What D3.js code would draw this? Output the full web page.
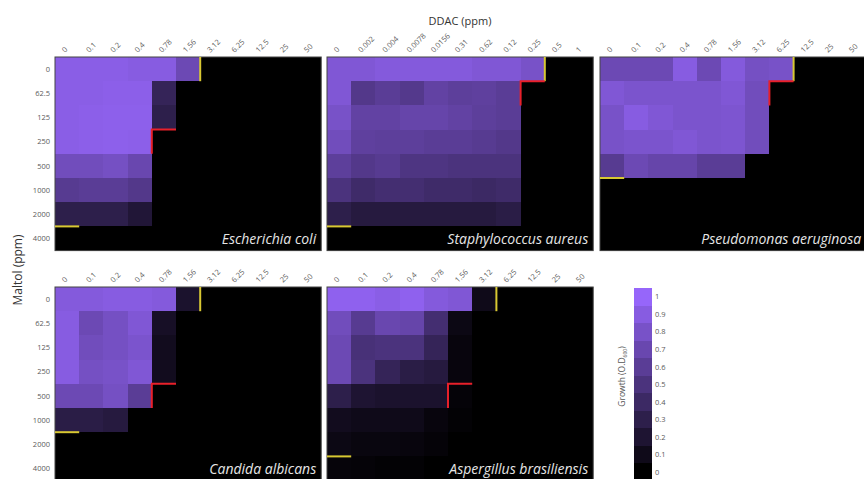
<!DOCTYPE html>
<html>
<head>
<meta charset="utf-8">
<script src="https://cdn.jsdelivr.net/npm/d3@7"></script>
<style>
  body { margin: 0; background: #fff; }
  text { font-family: "Open Sans", "Liberation Sans", sans-serif; }
</style>
</head>
<body>
<div id="chart"></div>
<script>
// Tick labels
const ddacTicks = ["0", "0.1", "0.2", "0.4", "0.78", "1.56", "3.12", "6.25", "12.5", "25", "50"];
const ddacTicksSa = ["0", "0.002", "0.004", "0.0078", "0.0156", "0.31", "0.62", "0.12", "0.25", "0.5", "1"];
const maltolTicks = ["0", "62.5", "125", "250", "500", "1000", "2000", "4000"];
const growthTicks = [0, 0.1, 0.2, 0.3, 0.4, 0.5, 0.6, 0.7, 0.8, 0.9, 1];

// Growth (OD600), rows = maltol, cols = DDAC
const growthEcoli = [
  [0.92, 0.92, 0.92, 0.9, 0.9, 0.72, 0, 0, 0, 0, 0],
  [0.92, 0.92, 0.93, 0.93, 0.35, 0, 0, 0, 0, 0, 0],
  [0.92, 0.93, 0.94, 0.94, 0.3, 0, 0, 0, 0, 0, 0],
  [0.92, 0.93, 0.94, 0.93, 0, 0, 0, 0, 0, 0, 0],
  [0.75, 0.75, 0.78, 0.7, 0, 0, 0, 0, 0, 0, 0],
  [0.58, 0.6, 0.6, 0.55, 0, 0, 0, 0, 0, 0, 0],
  [0.3, 0.3, 0.3, 0.22, 0, 0, 0, 0, 0, 0, 0],
  [0, 0, 0, 0, 0, 0, 0, 0, 0, 0, 0]
];
const growthSaureus = [
  [0.85, 0.85, 0.88, 0.88, 0.88, 0.88, 0.85, 0.85, 0.8, 0, 0],
  [0.85, 0.55, 0.6, 0.56, 0.65, 0.62, 0.63, 0.6, 0, 0, 0],
  [0.8, 0.65, 0.65, 0.68, 0.68, 0.65, 0.62, 0.6, 0, 0, 0],
  [0.75, 0.63, 0.62, 0.62, 0.6, 0.6, 0.58, 0.55, 0, 0, 0],
  [0.62, 0.55, 0.58, 0.52, 0.52, 0.5, 0.5, 0.5, 0, 0, 0],
  [0.5, 0.42, 0.45, 0.45, 0.42, 0.42, 0.4, 0.42, 0, 0, 0],
  [0.3, 0.25, 0.25, 0.25, 0.25, 0.25, 0.25, 0.28, 0, 0, 0],
  [0, 0, 0, 0, 0, 0, 0, 0, 0, 0, 0]
];
const growthPaeruginosa = [
  [0.72, 0.72, 0.72, 0.9, 0.72, 0.88, 0.78, 0.8, 0, 0, 0],
  [0.85, 0.82, 0.82, 0.82, 0.82, 0.85, 0.75, 0, 0, 0, 0],
  [0.8, 0.9, 0.85, 0.82, 0.82, 0.83, 0.75, 0, 0, 0, 0],
  [0.8, 0.82, 0.82, 0.85, 0.82, 0.83, 0.75, 0, 0, 0, 0],
  [0.58, 0.72, 0.68, 0.68, 0.6, 0.6, 0, 0, 0, 0, 0],
  [0, 0, 0, 0, 0, 0, 0, 0, 0, 0, 0],
  [0, 0, 0, 0, 0, 0, 0, 0, 0, 0, 0],
  [0, 0, 0, 0, 0, 0, 0, 0, 0, 0, 0]
];
const growthCalbicans = [
  [0.88, 0.88, 0.9, 0.9, 0.88, 0.18, 0, 0, 0, 0, 0],
  [0.9, 0.72, 0.78, 0.85, 0.15, 0, 0, 0, 0, 0, 0],
  [0.9, 0.75, 0.78, 0.82, 0.12, 0, 0, 0, 0, 0, 0],
  [0.9, 0.78, 0.8, 0.85, 0.12, 0, 0, 0, 0, 0, 0],
  [0.72, 0.72, 0.78, 0.6, 0, 0, 0, 0, 0, 0, 0],
  [0.28, 0.28, 0.25, 0, 0, 0, 0, 0, 0, 0, 0],
  [0, 0, 0, 0, 0, 0, 0, 0, 0, 0, 0],
  [0, 0, 0, 0, 0, 0, 0, 0, 0, 0, 0]
];
const growthAbrasiliensis = [
  [0.95, 0.95, 0.92, 0.95, 0.88, 0.85, 0.1, 0, 0, 0, 0],
  [0.75, 0.58, 0.7, 0.68, 0.45, 0.08, 0, 0, 0, 0, 0],
  [0.72, 0.48, 0.5, 0.5, 0.35, 0.05, 0, 0, 0, 0, 0],
  [0.72, 0.5, 0.35, 0.28, 0.25, 0.05, 0, 0, 0, 0, 0],
  [0.3, 0.2, 0.18, 0.18, 0.18, 0.03, 0, 0, 0, 0, 0],
  [0.12, 0.1, 0.1, 0.1, 0.05, 0.02, 0, 0, 0, 0, 0],
  [0.08, 0.06, 0.06, 0.05, 0.03, 0, 0, 0, 0, 0, 0],
  [0.04, 0.03, 0.02, 0.02, 0, 0, 0, 0, 0, 0, 0]
];

// MIC markers: yellow = DDAC MIC (col) and maltol MIC (row); red = FIC corner [row, col]
const micDdac = [6, 9, 8, 6, 7];
const micMaltol = [7, 7, 5, 6, 7];
const ficCorner = [[3, 4], [1, 8], [1, 7], [4, 4], [4, 5]];

const speciesNames = ["Escherichia coli", "Staphylococcus aureus", "Pseudomonas aeruginosa",
  "Candida albicans", "Aspergillus brasiliensis"];

// Layout
const W = 864, H = 479;
const cell = 24.2;
const panelW = cell * 11, panelH = cell * 8;
const panelPos = [[55, 57], [327, 57], [600, 57], [55, 287], [327, 287]];
const panels = [
  {grid: growthEcoli, cols: ddacTicks, rowLabels: true},
  {grid: growthSaureus, cols: ddacTicksSa, rowLabels: false},
  {grid: growthPaeruginosa, cols: ddacTicks, rowLabels: false},
  {grid: growthCalbicans, cols: ddacTicks, rowLabels: true},
  {grid: growthAbrasiliensis, cols: ddacTicks, rowLabels: false}
];

const color = d3.scaleLinear().domain([0, 1]).range(["#000000", "#9666fa"]).clamp(true);

const svg = d3.select("#chart").append("svg")
  .attr("width", W).attr("height", H);

panels.forEach((p, i) => {
  const [px, py] = panelPos[i];
  const g = svg.append("g").attr("transform", `translate(${px},${py})`);

  const x = d3.scaleBand().domain(d3.range(11)).range([0, panelW]);
  const y = d3.scaleBand().domain(d3.range(8)).range([0, panelH]);

  g.append("rect")
    .attr("width", panelW).attr("height", panelH)
    .attr("fill", "#000");

  const cells = [];
  p.grid.forEach((row, r) => row.forEach((v, c) => cells.push({r, c, v})));

  g.selectAll("rect.cell")
    .data(cells)
    .enter().append("rect")
      .attr("class", "cell")
      .attr("x", d => x(d.c))
      .attr("y", d => y(d.r))
      .attr("width", x.bandwidth())
      .attr("height", y.bandwidth())
      .attr("shape-rendering", "crispEdges")
      .attr("fill", d => color(d.v));

  g.append("rect")
    .attr("width", panelW).attr("height", panelH)
    .attr("fill", "none").attr("stroke", "#444").attr("stroke-width", 1);

  // column labels (rotated)
  g.selectAll("text.col")
    .data(p.cols)
    .enter().append("text")
      .attr("class", "col")
      .attr("transform", (d, k) => `translate(${x(k) + x.bandwidth() / 2 - 2},${-4}) rotate(-45)`)
      .attr("font-size", 7.5)
      .attr("fill", "#5a5a5a")
      .text(d => d);

  // row labels (left column only)
  if (p.rowLabels) {
    g.selectAll("text.row")
      .data(maltolTicks)
      .enter().append("text")
        .attr("class", "row")
        .attr("x", -5)
        .attr("y", (d, k) => y(k) + y.bandwidth() / 2)
        .attr("dy", "0.35em")
        .attr("text-anchor", "end")
        .attr("font-size", 7.5)
        .attr("fill", "#5a5a5a")
        .text(d => d);
  }

  // yellow MIC lines
  g.append("line")
    .attr("x1", x(micDdac[i])).attr("x2", x(micDdac[i]))
    .attr("y1", 0).attr("y2", y.bandwidth())
    .attr("stroke", "#d8c832").attr("stroke-width", 2);
  g.append("line")
    .attr("x1", 0).attr("x2", x.bandwidth())
    .attr("y1", y(micMaltol[i])).attr("y2", y(micMaltol[i]))
    .attr("stroke", "#d8c832").attr("stroke-width", 2);

  // red FIC corner
  const [fr, fc] = ficCorner[i];
  g.append("path")
    .attr("d", `M${x(fc)},${y(fr) + y.bandwidth()} L${x(fc)},${y(fr)} L${x(fc) + x.bandwidth()},${y(fr)}`)
    .attr("fill", "none").attr("stroke", "#e8202a").attr("stroke-width", 2);

  // species label
  g.append("text")
    .attr("x", panelW - 5)
    .attr("y", panelH - 7)
    .attr("text-anchor", "end")
    .attr("font-size", 14)
    .attr("font-style", "italic")
    .attr("fill", "#e6e6e6")
    .text(speciesNames[i]);
});

// axis titles
svg.append("text")
  .attr("x", 460).attr("y", 25)
  .attr("text-anchor", "middle")
  .attr("font-size", 11).attr("fill", "#333")
  .text("DDAC (ppm)");

svg.append("text")
  .attr("transform", "translate(22,270) rotate(-90)")
  .attr("text-anchor", "middle")
  .attr("font-size", 12).attr("fill", "#333")
  .text("Maltol (ppm)");

// color bar
const cbX = 634, cbTop = 288, cbH = 193, cbW = 18;
const cbY = d3.scaleBand().domain(growthTicks.slice().reverse()).range([cbTop, cbTop + cbH]);
const cb = svg.append("g");
cb.selectAll("rect")
  .data(growthTicks)
  .enter().append("rect")
    .attr("x", cbX)
    .attr("y", d => cbY(d))
    .attr("width", cbW)
    .attr("height", cbY.bandwidth())
    .attr("shape-rendering", "crispEdges")
    .attr("fill", d => color(d));
cb.selectAll("text")
  .data(growthTicks)
  .enter().append("text")
    .attr("x", cbX + cbW + 3)
    .attr("y", d => cbY(d) + cbY.bandwidth() / 2)
    .attr("dy", "0.35em")
    .attr("font-size", 7.5)
    .attr("fill", "#5a5a5a")
    .text(d => d);

const cbLabel = svg.append("text")
  .attr("transform", `translate(625,${cbTop + cbH / 2 - 8}) rotate(-90)`)
  .attr("text-anchor", "middle")
  .attr("font-size", 8.5).attr("fill", "#555");
cbLabel.append("tspan").text("Growth (O.D");
cbLabel.append("tspan").attr("font-size", 5).attr("dy", 2).text("600");
cbLabel.append("tspan").attr("dy", -2).text(")");
</script>
</body>
</html>
